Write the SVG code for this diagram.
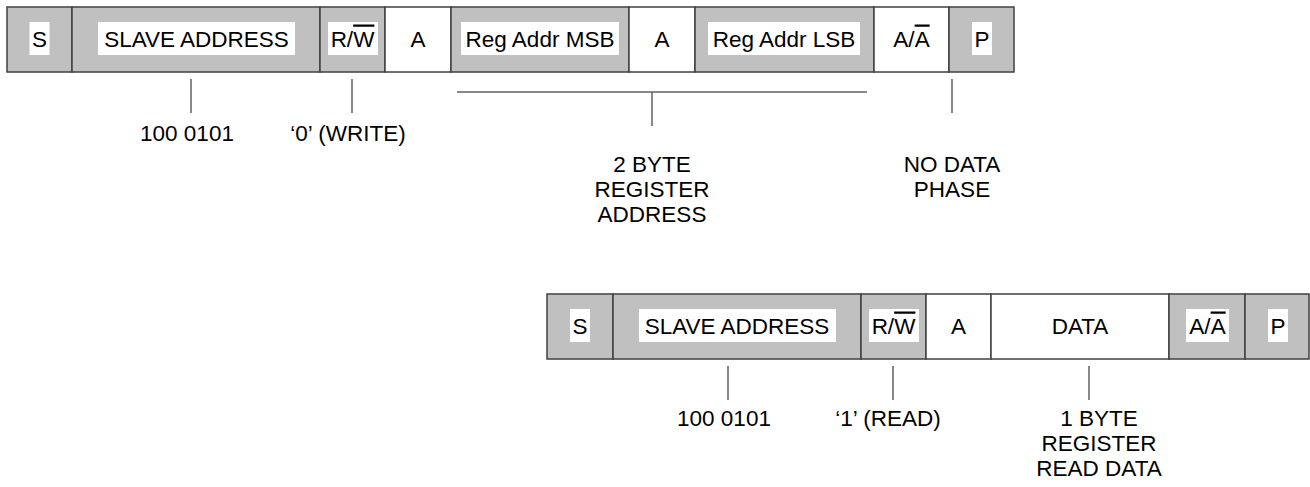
<svg xmlns="http://www.w3.org/2000/svg" width="1310" height="487" viewBox="0 0 1310 487">
  <style>
    .g { fill: #c0c0c0; stroke: #404040; stroke-width: 1.5; }
    .w { fill: #ffffff; stroke: #404040; stroke-width: 1.5; }
    .hl { fill: #ffffff; stroke: none; }
    text { font-family: "Liberation Sans", Arial, sans-serif; font-size: 22.5px; fill: #000000; text-anchor: middle; }
    .ov { text-decoration: overline; }
    .conn line { stroke: #606060; stroke-width: 1.5; fill: none; }
  </style>
  <rect width="1310" height="487" fill="#ffffff"/>

  <!-- Write frame: register address write, no data phase -->
  <g id="write-frame">
    <g id="w-start"><rect class="g" x="7" y="7" width="65" height="65"/><rect class="hl" x="29.5" y="22" width="20" height="33"/><text x="39.5" y="46.5">S</text></g>
    <g id="w-slave"><rect class="g" x="72" y="7" width="248" height="65"/><rect class="hl" x="98" y="22" width="197" height="33"/><text x="196.5" y="46.5">SLAVE ADDRESS</text></g>
    <g id="w-rw"><rect class="g" x="320" y="7" width="65" height="65"/><rect class="hl" x="328" y="22" width="50" height="33"/><text x="352.5" y="46.5">R/<tspan class="ov">W</tspan></text></g>
    <g id="w-ack1"><rect class="w" x="385" y="7" width="66" height="65"/><text x="418" y="46.5">A</text></g>
    <g id="w-msb"><rect class="g" x="451" y="7" width="178" height="65"/><rect class="hl" x="461" y="22" width="158" height="33"/><text x="540" y="46.5">Reg Addr MSB</text></g>
    <g id="w-ack2"><rect class="w" x="629" y="7" width="66" height="65"/><text x="662" y="46.5">A</text></g>
    <g id="w-lsb"><rect class="g" x="695" y="7" width="179" height="65"/><rect class="hl" x="708" y="22" width="152" height="33"/><text x="784" y="46.5">Reg Addr LSB</text></g>
    <g id="w-ack3"><rect class="w" x="874" y="7" width="75" height="65"/><text x="911.5" y="46.5">A/<tspan class="ov">A</tspan></text></g>
    <g id="w-stop"><rect class="g" x="949" y="7" width="65" height="65"/><rect class="hl" x="972" y="22" width="20" height="33"/><text x="982" y="46.5">P</text></g>
  </g>

  <!-- Read frame: one data byte -->
  <g id="read-frame">
    <g id="r-start"><rect class="g" x="547" y="294" width="66" height="65"/><rect class="hl" x="570" y="309" width="20" height="33"/><text x="580" y="333.5">S</text></g>
    <g id="r-slave"><rect class="g" x="613" y="294" width="248" height="65"/><rect class="hl" x="639" y="309" width="197" height="33"/><text x="737" y="333.5">SLAVE ADDRESS</text></g>
    <g id="r-rw"><rect class="g" x="861" y="294" width="65" height="65"/><rect class="hl" x="869" y="309" width="50" height="33"/><text x="893.5" y="333.5">R/<tspan class="ov">W</tspan></text></g>
    <g id="r-ack"><rect class="w" x="926" y="294" width="65" height="65"/><text x="958.5" y="333.5">A</text></g>
    <g id="r-data"><rect class="w" x="991" y="294" width="178" height="65"/><text x="1080" y="333.5">DATA</text></g>
    <g id="r-nack"><rect class="g" x="1169" y="294" width="76" height="65"/><rect class="hl" x="1186" y="309" width="43" height="33"/><text x="1207.5" y="333.5">A/<tspan class="ov">A</tspan></text></g>
    <g id="r-stop"><rect class="g" x="1245" y="294" width="64" height="65"/><rect class="hl" x="1268" y="309" width="20" height="33"/><text x="1278" y="333.5">P</text></g>
  </g>

  <!-- Callout leaders -->
  <g id="connectors" class="conn">
    <line x1="191" y1="79" x2="191" y2="113"/>
    <line x1="352" y1="79" x2="352" y2="113"/>
    <line x1="457" y1="92" x2="867" y2="92"/>
    <line x1="652" y1="92" x2="652" y2="126"/>
    <line x1="952" y1="79" x2="952" y2="113"/>
    <line x1="728" y1="366" x2="728" y2="400"/>
    <line x1="893" y1="366" x2="893" y2="400"/>
    <line x1="1089" y1="366" x2="1089" y2="400"/>
  </g>

  <!-- Callout texts -->
  <g id="labels">
    <g id="lbl-w-addr"><text x="187" y="141">100 0101</text></g>
    <g id="lbl-w-rw"><text x="348" y="141">‘0’ (WRITE)</text></g>
    <g id="lbl-w-reg"><text x="652" y="172">2 BYTE</text><text x="652" y="197">REGISTER</text><text x="652" y="222">ADDRESS</text></g>
    <g id="lbl-w-nodata"><text x="952" y="172">NO DATA</text><text x="952" y="197">PHASE</text></g>
    <g id="lbl-r-addr"><text x="724" y="426">100 0101</text></g>
    <g id="lbl-r-rw"><text x="888" y="426">‘1’ (READ)</text></g>
    <g id="lbl-r-data"><text x="1099" y="426">1 BYTE</text><text x="1099" y="451">REGISTER</text><text x="1099" y="476">READ DATA</text></g>
  </g>
</svg>
